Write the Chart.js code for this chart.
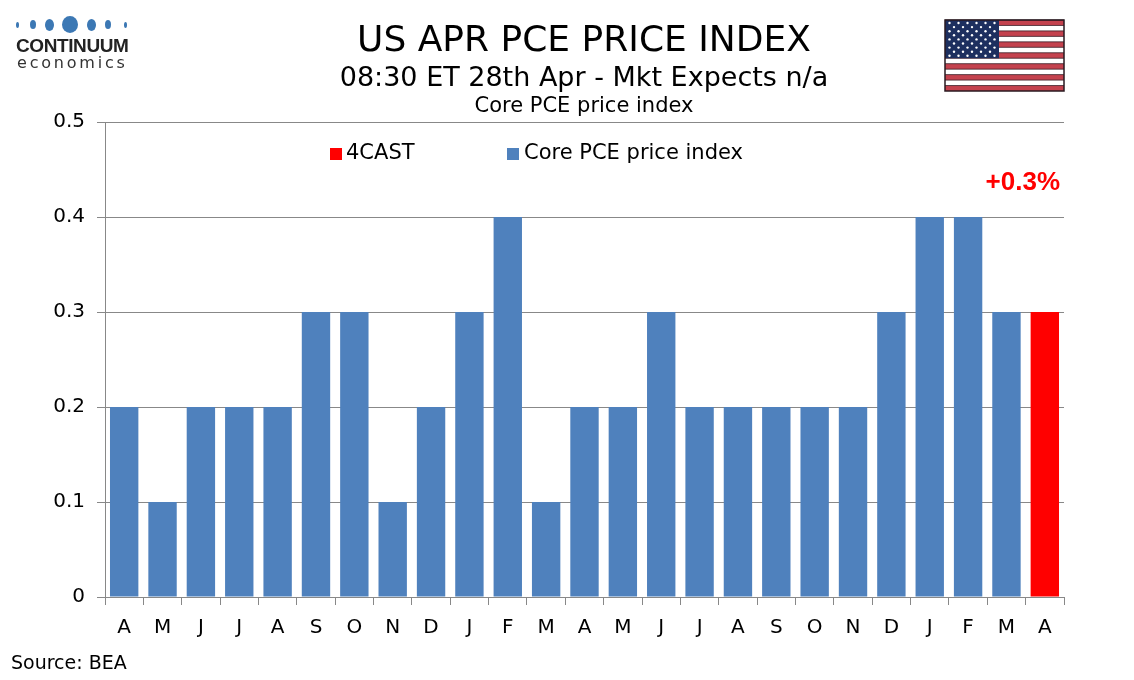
<!DOCTYPE html>
<html>
<head>
<meta charset="utf-8">
<script src="https://cdn.jsdelivr.net/npm/chart.js@4"></script>
<style>
  html, body { margin: 0; padding: 0; background: #fff; }
  #wrap { position: relative; width: 1134px; height: 680px; overflow: hidden; font-family: "DejaVu Sans", Verdana, sans-serif; }
  #wrap canvas#chart { position: absolute; left: 0; top: 0; }
  .txt { position: absolute; white-space: nowrap; color: #000; }
  .ctr { left: 0; width: 1168px; text-align: center; }
  .sw { position: absolute; width: 12px; height: 12px; }
  .dot { position: absolute; background: #3c78b4; border-radius: 50%; }
</style>
</head>
<body>
<div id="wrap">
  <canvas id="chart" width="1134" height="680"></canvas>

  <!-- logo -->
  <div class="dot" style="left:16px;top:22px;width:3px;height:6px"></div>
  <div class="dot" style="left:30px;top:20px;width:6px;height:9px"></div>
  <div class="dot" style="left:45px;top:19px;width:9px;height:12px"></div>
  <div class="dot" style="left:62px;top:16px;width:16px;height:17px"></div>
  <div class="dot" style="left:87px;top:19px;width:9px;height:12px"></div>
  <div class="dot" style="left:105px;top:20px;width:6px;height:9px"></div>
  <div class="dot" style="left:124px;top:22px;width:3px;height:6px"></div>
  <div class="txt" style="left:16px;top:35px;font:bold 19px 'Liberation Sans', Arial, sans-serif;color:#222;letter-spacing:-0.4px">CONTINUUM</div>
  <div class="txt" style="left:17px;top:53px;font:16px 'DejaVu Sans', sans-serif;color:#333;letter-spacing:2.8px">economics</div>

  <!-- titles -->
  <div class="txt ctr" style="top:18px;font-size:36px">US APR PCE PRICE INDEX</div>
  <div class="txt ctr" style="top:61px;font-size:27px">08:30 ET 28th Apr - Mkt Expects n/a</div>
  <div class="txt ctr" style="top:93px;font-size:21px">Core PCE price index</div>

  <!-- legend -->
  <div class="sw" style="left:330px;top:148px;background:#ff0000"></div>
  <div class="txt" style="left:346px;top:140px;font-size:21px">4CAST</div>
  <div class="sw" style="left:507px;top:148px;background:#4f81bd"></div>
  <div class="txt" style="left:524px;top:140px;font-size:21px">Core PCE price index</div>

  <div class="txt" style="left:11px;top:651px;font-size:19px">Source: BEA</div>

  <canvas id="flag" width="121" height="73" style="position:absolute;left:944px;top:19px"></canvas>
</div>
<script>
const months = ['A','M','J','J','A','S','O','N','D','J','F','M','A','M','J','J','A','S','O','N','D','J','F','M','A'];
const corePce = [0.2,0.1,0.2,0.2,0.2,0.3,0.3,0.1,0.2,0.3,0.4,0.1,0.2,0.2,0.3,0.2,0.2,0.2,0.2,0.2,0.3,0.4,0.4,0.3,null];
const forecast = [null,null,null,null,null,null,null,null,null,null,null,null,null,null,null,null,null,null,null,null,null,null,null,null,0.3];
const yTicks = [0,0.1,0.2,0.3,0.4,0.5];

// forecast label above the last bar
const forecastLabel = {
  id: 'forecastLabel',
  afterDatasetsDraw(chart) {
    const meta = chart.getDatasetMeta(0);
    const i = forecast.length - 1;
    const bar = meta.data[i];
    if (!bar) return;
    const ctx = chart.ctx;
    ctx.save();
    ctx.font = 'bold 26px "Liberation Sans", Arial, sans-serif';
    ctx.fillStyle = '#ff0000';
    ctx.textAlign = 'right';
    ctx.textBaseline = 'middle';
    ctx.fillText('+' + forecast[i].toFixed(1) + '%', bar.x + bar.width / 2 + 1, chart.scales.y.getPixelForValue(0.436));
    ctx.restore();
  }
};

new Chart(document.getElementById('chart'), {
  type: 'bar',
  data: {
    labels: months,
    datasets: [
      { label: '4CAST', data: forecast, backgroundColor: '#ff0000', barPercentage: 0.74, categoryPercentage: 1 },
      { label: 'Core PCE price index', data: corePce, backgroundColor: '#4f81bd', barPercentage: 0.74, categoryPercentage: 1 }
    ]
  },
  options: {
    responsive: false,
    animation: false,
    layout: { padding: { top: 122, right: 70, left: 0, bottom: 0 } },
    plugins: { legend: { display: false }, tooltip: { enabled: false } },
    scales: {
      x: {
        stacked: true,
        afterFit: s => { s.height = 83; },
        grid: { display: true, drawOnChartArea: false, drawTicks: true, tickLength: 8, color: '#888', offset: true },
        border: { color: '#888' },
        ticks: { color: '#000', font: { family: 'DejaVu Sans', size: 20 }, padding: 11, maxRotation: 0, autoSkip: false }
      },
      y: {
        stacked: true,
        min: 0, max: 0.5,
        afterFit: s => { s.width = 105; },
        afterBuildTicks: s => { s.ticks = yTicks.map(v => ({ value: v })); },
        grid: { color: '#888', tickLength: 8 },
        border: { color: '#888' },
        ticks: { color: '#000', font: { family: 'DejaVu Sans', size: 20 }, padding: 12, callback: v => v === 0 ? '0' : v.toFixed(1) }
      }
    }
  },
  plugins: [forecastLabel]
});

// flag
(function () {
  const c = document.getElementById('flag').getContext('2d');
  const x0 = 1, y0 = 1, w = 119, h = 71, sh = h / 13;
  c.fillStyle = '#fff';
  c.fillRect(x0, y0, w, h);
  for (let k = 0; k < 13; k++) {
    if (k % 2 === 0) {
      c.fillStyle = '#c4424e';
      c.fillRect(x0, y0 + k * sh, w, sh);
    }
    c.strokeStyle = '#3a2028';
    c.lineWidth = 0.8;
    c.beginPath(); c.moveTo(x0, y0 + k * sh); c.lineTo(x0 + w, y0 + k * sh); c.stroke();
  }
  const cw = 54, ch = sh * 7;
  c.fillStyle = '#1d2f5f';
  c.fillRect(x0, y0, cw, ch);
  c.fillStyle = '#fff';
  for (let r = 0; r < 9; r++) {
    const n = r % 2 === 0 ? 6 : 5;
    for (let q = 0; q < n; q++) {
      const sx = x0 + (r % 2 === 0 ? 4.5 : 9) + q * 9;
      const sy = y0 + 3 + r * 4.1;
      c.beginPath(); c.arc(sx, sy, 1.2, 0, Math.PI * 2); c.fill();
    }
  }
  c.strokeStyle = '#2a1a20';
  c.lineWidth = 1.5;
  c.strokeRect(x0, y0, w, h);
})();
</script>
</body>
</html>
